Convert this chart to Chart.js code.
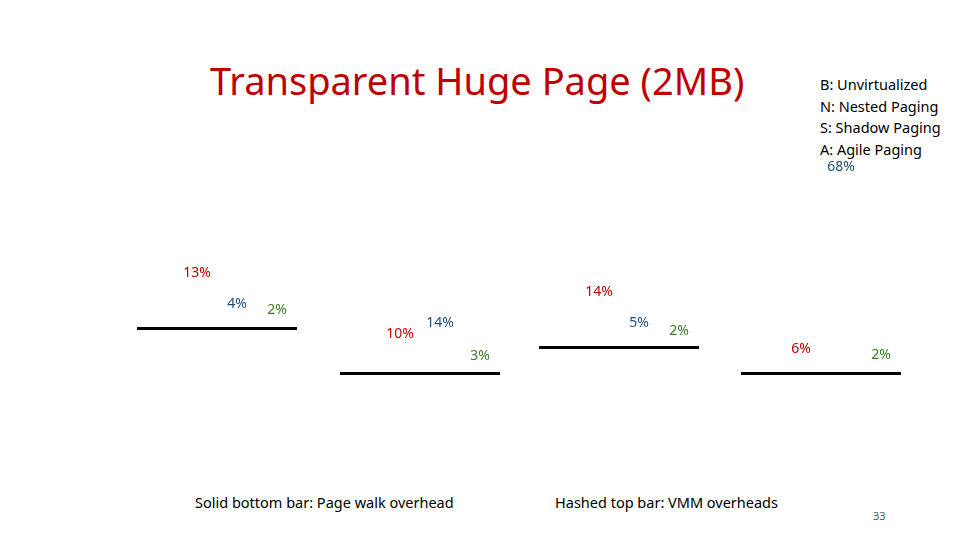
<!DOCTYPE html>
<html>
<head>
<meta charset="utf-8">
<script src="https://cdn.jsdelivr.net/npm/chart.js@4/dist/chart.umd.min.js"></script>
<style>
  body { margin: 0; width: 960px; height: 540px; background: #fff; position: relative; overflow: hidden; font-family: "Noto Sans", sans-serif; }
  .txt { position: absolute; white-space: nowrap; }
  .box { position: absolute; }
</style>
</head>
<body>
<div class="txt" style="left:210px;top:54px;font-size:38px;color:#c00000;">Transparent Huge Page (2MB)</div>
<div class="txt" style="left:820px;top:74px;font-size:14.5px;line-height:21.5px;color:#000;">B: Unvirtualized<br>N: Nested Paging<br>S: Shadow Paging<br>A: Agile Paging</div>
<div class="txt" style="left:195px;top:492px;font-size:14.5px;">Solid bottom bar: Page walk overhead</div>
<div class="txt" style="left:555px;top:492px;font-size:14.5px;">Hashed top bar: VMM overheads</div>
<div class="txt" style="left:873px;top:508px;font-size:11px;color:#555;">33</div>

<div class="box" id="g1" style="left:137px;top:150px;width:160px;height:186px;"><canvas id="c1"></canvas></div>
<div class="box" id="g2" style="left:340px;top:150px;width:160px;height:231px;"><canvas id="c2"></canvas></div>
<div class="box" id="g3" style="left:539px;top:150px;width:160px;height:205px;"><canvas id="c3"></canvas></div>
<div class="box" id="g4" style="left:741px;top:150px;width:160px;height:231px;"><canvas id="c4"></canvas></div>

<script>
  const categories = ["B", "N", "S", "A"];
  // estimated bar heights per workload (bars themselves not visible in slide)
  const group1Heights = [5, 46, 16, 10];
  const group2Heights = [5, 31, 42, 9];
  const group3Heights = [5, 47, 16, 8];
  const group4Heights = [5, 16, 196, 10];
  const group1Labels = ["", "13%", "4%", "2%"];
  const group2Labels = ["", "10%", "14%", "3%"];
  const group3Labels = ["", "14%", "5%", "2%"];
  const group4Labels = ["", "6%", "68%", "2%"];
  const labelColors = ["#000", "#c00000", "#1f4e79", "#3a7d22"];

  const labelPlugin = {
    id: "barLabels",
    afterDatasetsDraw(chart) {
      const ctx = chart.ctx;
      const meta = chart.getDatasetMeta(0);
      const texts = chart.options.plugins.barLabels.texts;
      ctx.save();
      ctx.font = "14px 'Noto Sans', sans-serif";
      ctx.textAlign = "center";
      ctx.textBaseline = "bottom";
      meta.data.forEach((bar, i) => {
        if (!texts[i]) return;
        ctx.fillStyle = labelColors[i];
        ctx.fillText(texts[i], bar.x, bar.y - 1);
      });
      ctx.restore();
    },
  };

  function makeGroup(id, heights, texts) {
    const canvas = document.getElementById(id);
    const h = canvas.parentNode.clientHeight;
    new Chart(canvas, {
      type: "bar",
      data: {
        labels: categories,
        datasets: [{ data: heights, backgroundColor: "rgba(255,255,255,0)", borderWidth: 0 }],
      },
      options: {
        responsive: true,
        maintainAspectRatio: false,
        animation: false,
        layout: { padding: 0 },
        plugins: { legend: { display: false }, tooltip: { enabled: false }, barLabels: { texts: texts } },
        scales: {
          x: { grid: { display: false }, ticks: { display: false }, border: { color: "#000", width: 3 } },
          y: { display: false, min: 0, max: h - 10 },
        },
      },
      plugins: [labelPlugin],
    });
  }

  makeGroup("c1", group1Heights, group1Labels);
  makeGroup("c2", group2Heights, group2Labels);
  makeGroup("c3", group3Heights, group3Labels);
  makeGroup("c4", group4Heights, group4Labels);
</script>
</body>
</html>
